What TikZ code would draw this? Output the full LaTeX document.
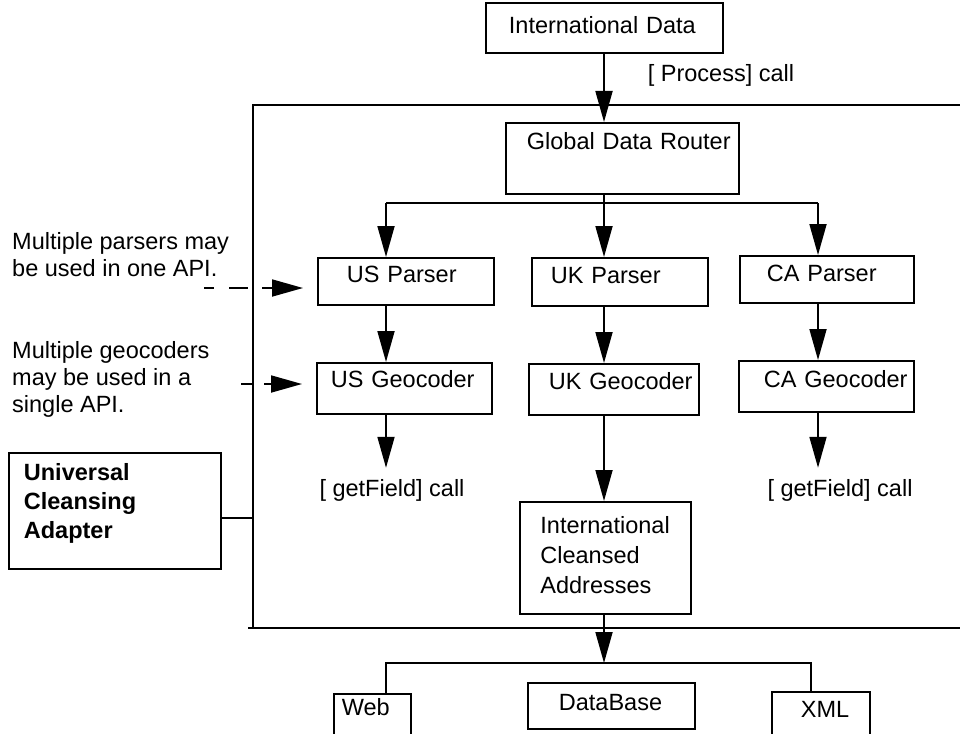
\documentclass[tikz,border=0pt]{standalone}
\usepackage{fontspec}
\setmainfont{Liberation Sans}
\usepackage{tikz}
\usetikzlibrary{arrows.meta}

\tikzset{
  box/.style={draw, line width=1.8pt, inner sep=0pt, anchor=north west, align=left},
  lpad/.style={execute at begin node={\hspace*{#1pt}}},
  wire/.style={line width=1.8pt},
  arr/.style={wire, -{Triangle[length=31pt,width=17pt]}},
  note/.style={inner sep=0pt, align=left, anchor=north west},
  callnote/.style={inner xsep=0pt, inner ysep=11pt, anchor=base},
}

\begin{document}
\begin{tikzpicture}[x=1pt, y=-1pt, every node/.style={font=\fontsize{23.5pt}{28pt}\selectfont}]
  \useasboundingbox (0,0) rectangle (960,733);

  % adapter frame
  \coordinate (frametop) at (253,105);
  \coordinate (framebot) at (253,628);
  \draw[wire] (960,105) -- (frametop) -- (framebot);
  \draw[wire] (framebot) ++(-5,0) -- (960,628);

  \node[box, lpad=23, text width=237pt, text height=31pt, text depth=19pt] (intl) at (485,2) {International Data};
  \node[callnote] (proc) at (721,82) {[ Process] call};
  \node[box, lpad=21, text width=233pt, text height=27pt, text depth=44pt] (router) at (505,122) {Global Data Router};

  \node[box, lpad=29, text width=176pt, text height=25pt, text depth=22pt] (usparse) at (317,257) {US Parser};
  \node[box, lpad=19, text width=176pt, text height=26pt, text depth=22pt] (ukparse) at (531,257) {UK Parser};
  \node[box, lpad=27, text width=174pt, text height=26pt, text depth=21pt] (caparse) at (739,255) {CA Parser};

  \node[box, lpad=14, text width=175pt, text height=25pt, text depth=26pt] (usgeo) at (316,362) {US Geocoder};
  \node[box, lpad=20, text width=170pt, text height=26pt, text depth=25pt] (ukgeo) at (528,363) {UK Geocoder};
  \node[box, lpad=25, text width=175pt, text height=27pt, text depth=24pt] (cageo) at (738,360) {CA Geocoder};

  \node[callnote] (usget) at (392,496) {[ getField] call};
  \node[callnote] (caget) at (840,496) {[ getField] call};

  \node[box, inner xsep=20.5pt, text width=130pt, text height=32pt, text depth=80pt,
    font=\fontsize{23.5pt}{30pt}\selectfont] (ica) at (519,501) {International\\Cleansed\\Addresses};

  \node[box, inner xsep=15pt, text width=182pt, text height=28pt, text depth=88pt,
    font=\fontsize{23.5pt}{29pt}\selectfont\bfseries] (uca) at (8,452) {Universal\\Cleansing\\Adapter};

  \node[note, font=\fontsize{23.5pt}{27pt}\selectfont] (parsnote) at (12,232) {Multiple parsers may\\be used in one API.};
  \node[note, font=\fontsize{23.5pt}{27pt}\selectfont] (geonote) at (12,341) {Multiple geocoders\\may be used in a\\single API.};

  % outputs
  \node[box, lpad=8, text width=77pt, text height=22pt, text depth=60pt] (web) at (333,693) {Web};
  \node[box, lpad=31, text width=167pt, text height=28pt, text depth=18pt] (db) at (527,682) {DataBase};
  \node[box, lpad=29, text width=98pt, text height=26pt, text depth=60pt] (xml) at (771,691) {XML};

  % connectors
  \coordinate (spine) at (604,0);
  \coordinate (usx) at (386,0);
  \coordinate (cax) at (818,0);
  \coordinate (split) at (604,203);
  \draw[arr] (spine |- intl.south) -- (spine |- router.north);
  \draw[arr] (spine |- router.south) -- (spine |- ukparse.north);
  \draw[wire] (usx |- split) -- (cax |- split);
  \draw[arr] (usx |- split) -- (usx |- usparse.north);
  \draw[arr] (cax |- split) -- (cax |- caparse.north);
  \draw[arr] (usx |- usparse.south) -- (usx |- usgeo.north);
  \draw[arr] (spine |- ukparse.south) -- (spine |- ukgeo.north);
  \draw[arr] (cax |- caparse.south) -- (cax |- cageo.north);
  \draw[arr] (usx |- usgeo.south) -- (usx |- usget.north);
  \draw[arr] (cax |- cageo.south) -- (cax |- caget.north);
  \draw[arr] (spine |- ukgeo.south) -- (spine |- ica.north);

  \coordinate (outfork) at (604,663);
  \coordinate (outl) at (386,663);
  \coordinate (outr) at (811,663);
  \draw[arr] (spine |- ica.south) -- (outfork);
  \draw[wire] (outl |- web.north) -- (outl) -- (outr) -- (outr |- xml.north);

  \coordinate (adapt) at (253,518);
  \draw[wire] (uca.east |- adapt) -- (adapt);

  \coordinate (parsfrom) at (204,288);
  \coordinate (geofrom) at (241,384);
  \draw[arr, dash pattern=on 10pt off 15pt on 19pt off 14pt on 80pt, shorten >=14pt] (parsfrom) -- (parsfrom -| usparse.west);
  \draw[arr, dash pattern=on 12pt off 11pt on 80pt, shorten >=14pt] (geofrom) -- (geofrom -| usgeo.west);
\end{tikzpicture}
\end{document}
